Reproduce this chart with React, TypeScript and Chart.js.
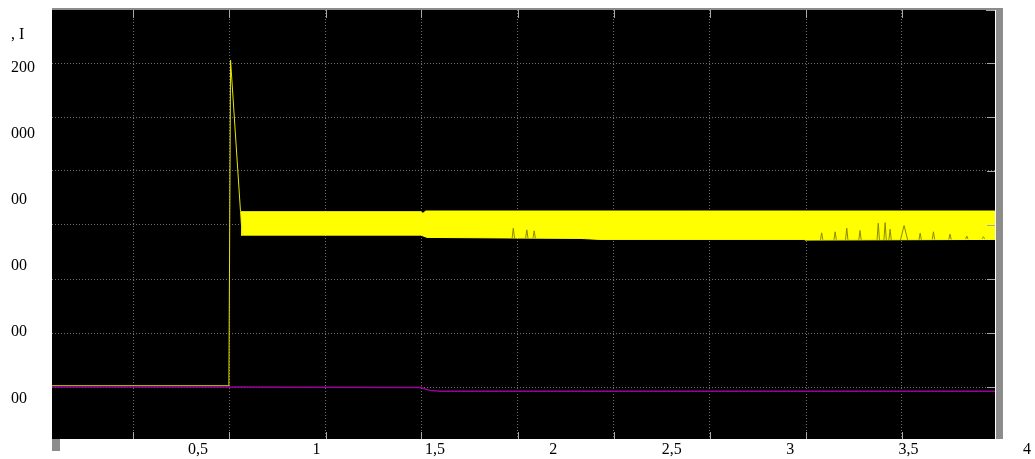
import { useEffect, useRef } from 'react';
import { Chart, registerables } from 'chart.js';

Chart.register(...registerables);

// ---- axis tick labels (as printed on the picture) ----
const X_TICK_VALUES = [0.5, 1, 1.5, 2, 2.5, 3, 3.5, 4];
const X_TICK_LABELS = ['0,5', '1', '1,5', '2', '2,5', '3', '3,5', '4'];
const Y_TICK_VALUES = [200, 400, 600, 800, 1000, 1200, 1300];
const Y_TICK_LABELS = ['00', '00', '00', '00', '000', '200', ', I'];

// ---- visible ranges ----
const X_MIN = -0.117;
const X_MAX = 3.865;
const Y_MIN = 76.8;
const Y_MAX = 1375.6;

// ---- scope grid divisions ----
const X_GRID = [0.226, 0.632, 1.038, 1.443, 1.849, 2.255, 2.661, 3.067, 3.472];
const Y_GRID = [1215.1, 1051.6, 888.2, 724.7, 561.2, 397.7, 234.2];

// ---- magenta trace ----
const PINK_T = [-0.117, 0.631, 1.444, 1.458, 1.479, 1.521, 3.865];
const PINK_V = [234, 234, 233, 228, 224, 221, 221];

// ---- yellow trace: pre-start level, inrush spike ----
const SPIKE_T = [-0.117, 0.630, 0.637, 0.679, 0.686];
const SPIKE_V = [238, 238, 1224, 765, 694];

// ---- yellow trace: oscillation envelope (upper edge) ----
const UPPER_T = [0.681, 1.441, 1.446, 1.452, 1.460, 3.865];
const UPPER_V = [765, 765, 761, 761, 767, 767];

// ---- yellow trace: oscillation envelope (lower edge) ----
const LOWER_T = [0.681, 1.441, 1.467, 2.113, 2.197, 3.059, 3.063, 3.865];
const LOWER_V = [694, 694, 687, 684, 681, 681, 679, 681];

// ---- yellow trace: sparse ripple peaks rising from the lower edge ----
const STREAK_T = [
  1.826, 1.831, 1.836, 1.883, 1.888, 1.893, 1.914, 1.919, 1.924,
  3.128, 3.133, 3.138, 3.185, 3.190, 3.195, 3.234, 3.239, 3.244,
  3.290, 3.295, 3.300, 3.367, 3.372, 3.377, 3.396, 3.401, 3.406,
  3.417, 3.422, 3.427, 3.466, 3.481, 3.496, 3.544, 3.549, 3.554,
  3.600, 3.605, 3.610, 3.670, 3.675, 3.680, 3.741, 3.746, 3.751,
  3.811, 3.816, 3.821,
];
const STREAK_V = [
  685, 715, 685, 685, 710, 685, 685, 707, 685,
  680, 701, 680, 680, 704, 680, 680, 715, 680,
  680, 708, 680, 680, 730, 680, 680, 732, 680,
  680, 712, 680, 680, 723, 680, 680, 700, 680,
  681, 704, 681, 681, 697, 681, 682, 691, 682,
  683, 689, 683,
];

const pts = (t: number[], v: number[]) => t.map((x, i) => ({ x, y: v[i] }));
// each ripple peak is drawn as its own small stroke (triplets separated by gaps)
const streakPts = (t: number[], v: number[]) => {
  const out: any[] = [];
  t.forEach((x, i) => {
    out.push({ x, y: v[i] });
    if (i % 3 === 2) out.push({ x: x + 0.0001, y: null });
  });
  return out;
};

const SERIF = "'Liberation Serif', 'Times New Roman', serif";

const scopeFrame = {
  id: 'scopeFrame',
  beforeDraw(chart: any) {
    const { ctx, chartArea: a } = chart;
    ctx.save();
    ctx.fillStyle = '#000000';
    ctx.fillRect(a.left, a.top, a.right - a.left, a.bottom - a.top);
    ctx.restore();
  },
  afterDraw(chart: any) {
    const { ctx, chartArea: a } = chart;
    const xg = chart.scales.xg;
    const yg = chart.scales.yg;
    ctx.save();
    ctx.fillStyle = '#8c8c8c';
    ctx.fillRect(a.left, a.top - 2, a.right - a.left + 8, 2);
    ctx.fillRect(a.right + 1, a.top - 2, 7, a.bottom - a.top + 2);
    ctx.fillRect(a.left, a.bottom, 8, 12);
    ctx.strokeStyle = '#a8a8a8';
    ctx.lineWidth = 1;
    ctx.beginPath();
    X_GRID.forEach((v) => {
      const px = Math.round(xg.getPixelForValue(v)) + 0.5;
      ctx.moveTo(px, a.top);
      ctx.lineTo(px, a.top + 8);
      ctx.moveTo(px, a.bottom);
      ctx.lineTo(px, a.bottom - 7);
    });
    Y_GRID.forEach((v) => {
      const py = Math.round(yg.getPixelForValue(v)) + 0.5;
      ctx.moveTo(a.right, py);
      ctx.lineTo(a.right - 8, py);
    });
    ctx.moveTo(a.right, a.top + 0.5);
    ctx.lineTo(a.right - 9, a.top + 0.5);
    ctx.stroke();
    ctx.restore();
  },
};

export default function App() {
  const ref = useRef<HTMLCanvasElement | null>(null);

  useEffect(() => {
    if (!ref.current) return;
    const chart = new Chart(ref.current, {
      type: 'line',
      data: {
        datasets: [
          {
            label: 'magenta',
            data: pts(PINK_T, PINK_V),
            borderColor: '#9a009a',
            borderWidth: 1.5,
            pointRadius: 0,
            tension: 0,
            fill: false,
          },
          {
            label: 'spike',
            data: pts(SPIKE_T, SPIKE_V),
            borderColor: '#e6e600',
            borderWidth: 1,
            pointRadius: 0,
            tension: 0,
            fill: false,
          },
          {
            label: 'ripple',
            data: streakPts(STREAK_T, STREAK_V),
            borderColor: '#8a8a00',
            borderWidth: 1,
            pointRadius: 0,
            tension: 0,
            spanGaps: false,
            fill: false,
          },
          {
            label: 'upper',
            data: pts(UPPER_T, UPPER_V),
            borderColor: '#ffff00',
            backgroundColor: '#ffff00',
            borderWidth: 1,
            pointRadius: 0,
            tension: 0,
            fill: '+1',
          },
          {
            label: 'lower',
            data: pts(LOWER_T, LOWER_V),
            borderColor: '#ffff00',
            borderWidth: 1,
            pointRadius: 0,
            tension: 0,
            fill: false,
          },
        ],
      },
      options: {
        animation: false,
        responsive: false,
        maintainAspectRatio: false,
        events: [],
        layout: { padding: { left: 11, right: 40, top: 10, bottom: 0 } },
        plugins: {
          legend: { display: false },
          tooltip: { enabled: false },
          title: { display: false },
        },
        scales: {
          x: {
            type: 'linear',
            position: 'bottom',
            min: X_MIN,
            max: X_MAX,
            grid: { display: false, drawTicks: false },
            border: { display: false },
            afterBuildTicks: (s: any) => {
              s.ticks = X_TICK_VALUES.map((value) => ({ value }));
            },
            afterFit: (s: any) => {
              s.height = 20;
            },
            ticks: {
              autoSkip: false,
              maxRotation: 0,
              minRotation: 0,
              padding: 1,
              color: '#000000',
              font: { family: SERIF, size: 16 },
              callback: (v: any) => {
                const i = X_TICK_VALUES.indexOf(Number(v));
                return i >= 0 ? X_TICK_LABELS[i] : '';
              },
            },
          },
          xg: {
            type: 'linear',
            position: 'bottom',
            min: X_MIN,
            max: X_MAX,
            border: { display: false, dash: [1, 2] },
            grid: {
              display: true,
              drawTicks: false,
              color: '#707070',
              lineWidth: 1,
            },
            afterBuildTicks: (s: any) => {
              s.ticks = X_GRID.map((value) => ({ value }));
            },
            afterFit: (s: any) => {
              s.height = 0;
            },
            ticks: { display: false },
          },
          y: {
            type: 'linear',
            position: 'left',
            min: Y_MIN,
            max: Y_MAX,
            grid: { display: false, drawTicks: false },
            border: { display: false },
            afterBuildTicks: (s: any) => {
              s.ticks = Y_TICK_VALUES.map((value) => ({ value }));
            },
            afterFit: (s: any) => {
              s.width = 41;
            },
            ticks: {
              autoSkip: false,
              crossAlign: 'far',
              padding: 0,
              color: '#000000',
              font: { family: SERIF, size: 16 },
              callback: (v: any) => {
                const i = Y_TICK_VALUES.indexOf(Number(v));
                return i >= 0 ? Y_TICK_LABELS[i] : '';
              },
            },
          },
          yg: {
            type: 'linear',
            position: 'left',
            min: Y_MIN,
            max: Y_MAX,
            border: { display: false, dash: [1, 2] },
            grid: {
              display: true,
              drawTicks: false,
              color: '#707070',
              lineWidth: 1,
            },
            afterBuildTicks: (s: any) => {
              s.ticks = Y_GRID.map((value) => ({ value }));
            },
            afterFit: (s: any) => {
              s.width = 0;
            },
            ticks: { display: false },
          },
        },
      } as any,
      plugins: [scopeFrame],
    });
    return () => chart.destroy();
  }, []);

  return (
    <div style={{ position: 'absolute', left: 0, top: 0, width: 1035, height: 459, background: '#ffffff' }}>
      <canvas ref={ref} width={1035} height={459} />
    </div>
  );
}
